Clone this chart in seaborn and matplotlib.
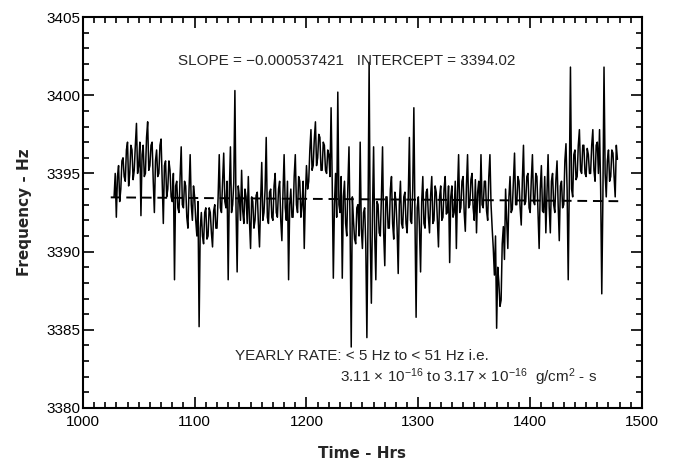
import numpy as np
import pandas as pd
import matplotlib
matplotlib.use("Agg")
import matplotlib.pyplot as plt
from matplotlib.ticker import MultipleLocator
import seaborn as sns

# ---- data ----
t_start = 1028.0
t_step = 1.0

# samples at even hours (1028, 1030, ...)
freq_even_a = [3393.5, 3392.2, 3395.5, 3394.0, 3396.0, 3394.5, 3397.0, 3395.0, 3396.5, 3395.2,
               3398.2, 3395.5, 3392.3, 3396.8, 3395.0, 3398.3, 3395.5, 3397.0, 3392.5, 3396.5,
               3395.0, 3397.2, 3391.8, 3395.8, 3394.0, 3395.2, 3393.2, 3388.2, 3394.5, 3392.5,
               3396.7, 3392.8, 3394.2, 3391.5, 3396.2, 3392.0, 3393.5, 3391.0, 3385.2, 3392.5,
               3390.5, 3392.8, 3391.0, 3392.5, 3390.3, 3393.0, 3391.5, 3396.2, 3392.5, 3396.3]
freq_even_b = [3392.8, 3388.2, 3396.7, 3393.0, 3400.3, 3388.7, 3393.5, 3395.2, 3391.8, 3393.5,
               3394.8, 3390.2, 3393.2, 3392.0, 3393.8, 3390.3, 3395.7, 3392.5, 3397.3, 3391.8,
               3394.0, 3392.0, 3395.0, 3392.2, 3394.5, 3390.7, 3396.2, 3392.0, 3388.2, 3394.0,
               3392.2, 3396.2, 3392.5, 3394.5, 3393.0, 3390.2, 3395.5, 3394.5, 3397.8, 3395.5,
               3398.3, 3396.0, 3397.3, 3395.2, 3396.8, 3395.0, 3396.2, 3399.2, 3388.3, 3395.0]
freq_even_c = [3400.2, 3392.5, 3388.3, 3394.5, 3391.0, 3396.7, 3383.9, 3392.0, 3390.5, 3393.0,
               3397.0, 3390.2, 3392.8, 3384.5, 3402.1, 3386.7, 3396.7, 3388.2, 3393.0, 3391.0,
               3396.7, 3389.1, 3393.5, 3391.5, 3394.8, 3390.8, 3393.2, 3388.6, 3394.5, 3391.5,
               3393.8, 3391.2, 3397.3, 3391.8, 3399.2, 3385.8, 3393.5, 3388.7, 3394.8, 3391.5,
               3394.0, 3391.2, 3394.8, 3392.0, 3393.8, 3390.3, 3394.2, 3392.2, 3394.8, 3392.5]
freq_even_d = [3389.3, 3394.2, 3392.5, 3390.2, 3396.2, 3392.8, 3394.8, 3391.3, 3396.2, 3393.0,
               3395.0, 3392.0, 3391.2, 3394.5, 3396.2, 3392.8, 3394.5, 3392.0, 3396.2, 3391.5,
               3388.5, 3385.1, 3388.0, 3386.9, 3391.6, 3394.0, 3390.2, 3394.8, 3392.7, 3396.3,
               3393.0, 3394.5, 3391.7, 3396.8, 3393.2, 3395.0, 3392.5, 3396.2, 3393.0, 3394.8,
               3390.2, 3395.5, 3392.5, 3391.2, 3396.2, 3391.2, 3395.0, 3392.5, 3395.8, 3390.7]
freq_even_e = [3394.5, 3393.0, 3396.9, 3388.2, 3401.8, 3393.5, 3396.5, 3394.8, 3397.8, 3395.0,
               3396.8, 3394.8, 3396.2, 3395.0, 3397.8, 3394.5, 3397.0, 3397.8, 3387.3, 3401.8,
               3393.5, 3396.5, 3394.8, 3396.3, 3393.5, 3395.9]

# samples at odd hours (1029, 1031, ...)
freq_odd_a = [3395.0, 3394.8, 3393.2, 3395.8, 3394.8, 3396.5, 3394.2, 3396.8, 3394.6, 3396.8,
              3395.0, 3397.0, 3396.2, 3394.8, 3397.3, 3395.2, 3396.8, 3394.5, 3395.8, 3394.8,
              3396.8, 3394.5, 3395.5, 3393.5, 3395.8, 3393.5, 3395.0, 3394.2, 3392.8, 3394.8,
              3393.0, 3394.5, 3392.2, 3394.0, 3393.0, 3394.2, 3392.0, 3393.2, 3391.5, 3391.0,
              3392.5, 3390.8, 3392.8, 3391.2, 3392.6, 3391.5, 3393.5, 3392.8, 3394.5, 3393.2]
freq_odd_b = [3394.5, 3393.8, 3392.5, 3394.4, 3392.8, 3394.2, 3392.0, 3392.6, 3394.0, 3391.8,
              3392.0, 3393.5, 3391.5, 3393.6, 3391.8, 3393.2, 3392.0, 3394.0, 3392.2, 3393.8,
              3392.2, 3394.2, 3392.5, 3394.0, 3392.0, 3393.8, 3392.8, 3394.5, 3393.0, 3392.2,
              3394.8, 3393.0, 3394.8, 3392.2, 3394.5, 3393.5, 3394.0, 3396.5, 3395.2, 3397.2,
              3395.5, 3397.5, 3395.2, 3397.0, 3395.2, 3396.5, 3394.8, 3394.5, 3393.0, 3392.2]
freq_odd_c = [3393.0, 3394.8, 3393.5, 3391.8, 3394.2, 3391.5, 3393.5, 3390.8, 3392.8, 3391.0,
              3391.5, 3392.5, 3390.5, 3392.0, 3391.0, 3392.5, 3391.0, 3393.2, 3391.2, 3393.5,
              3391.2, 3393.5, 3391.5, 3394.0, 3391.8, 3393.8, 3391.5, 3393.0, 3391.8, 3393.5,
              3391.8, 3393.5, 3392.0, 3394.0, 3392.0, 3392.8, 3391.5, 3393.2, 3391.8, 3393.8,
              3392.2, 3393.6, 3391.8, 3394.2, 3392.0, 3393.5, 3392.0, 3394.0, 3392.4, 3394.2]
freq_odd_d = [3393.5, 3392.2, 3394.5, 3393.8, 3392.5, 3394.5, 3392.5, 3394.2, 3392.8, 3394.6,
              3392.8, 3394.6, 3393.8, 3392.5, 3393.0, 3394.5, 3392.6, 3394.8, 3393.0, 3390.2,
              3391.0, 3389.0, 3386.5, 3390.5, 3389.5, 3392.0, 3393.5, 3392.5, 3394.5, 3393.0,
              3394.8, 3392.8, 3394.6, 3393.0, 3394.8, 3392.8, 3394.6, 3393.2, 3395.0, 3392.6,
              3394.0, 3392.6, 3394.8, 3393.8, 3392.8, 3394.5, 3393.0, 3394.6, 3393.0, 3394.2]
freq_odd_e = [3392.8, 3395.8, 3394.0, 3394.5, 3394.0, 3396.2, 3394.6, 3396.8, 3395.2, 3396.8,
              3395.0, 3396.6, 3395.0, 3396.8, 3395.2, 3396.8, 3395.0, 3394.0, 3393.5, 3395.0,
              3395.8, 3394.5, 3396.5, 3394.8, 3396.8]

slope = -0.000537421
intercept = 3394.02
fit_range = [1025.0, 1480.0]

x_ticks = [1000, 1100, 1200, 1300, 1400, 1500]
y_ticks = [3380, 3385, 3390, 3395, 3400, 3405]

even = freq_even_a + freq_even_b + freq_even_c + freq_even_d + freq_even_e
odd = freq_odd_a + freq_odd_b + freq_odd_c + freq_odd_d + freq_odd_e
freq = np.empty(len(even) + len(odd))
freq[0::2] = even
freq[1::2] = odd
time = t_start + t_step * np.arange(len(freq))
df = pd.DataFrame({"time": time, "freq": freq})
fit_df = pd.DataFrame({"time": fit_range,
                       "freq": [intercept + slope * v for v in fit_range]})

# ---- style ----
sns.set_style("ticks")
plt.rcParams["font.family"] = ["Liberation Sans", "DejaVu Sans"]
plt.rcParams["mathtext.fontset"] = "custom"
plt.rcParams["mathtext.rm"] = "Liberation Sans"
plt.rcParams["mathtext.it"] = "Liberation Sans:italic"

fig = plt.figure(figsize=(6.73, 4.61), dpi=100)
ax = fig.add_axes([0.123, 0.115, 0.831, 0.848])

sns.lineplot(data=df, x="time", y="freq", ax=ax, color="black", linewidth=1.1,
             estimator=None, sort=False)
sns.lineplot(data=fit_df, x="time", y="freq", ax=ax, color="black", linewidth=1.4,
             estimator=None, linestyle=(0, (5, 3)))

ax.set_xlim(1000, 1500)
ax.set_ylim(3380, 3405)
ax.set_xticks(x_ticks)
ax.set_yticks(y_ticks)
ax.xaxis.set_minor_locator(MultipleLocator(10))
ax.yaxis.set_minor_locator(MultipleLocator(1))
ax.tick_params(which="both", direction="in", top=True, right=True, labelsize=11,
               width=1.2, colors="black")
ax.tick_params(axis="y", pad=2)
ax.tick_params(axis="x", pad=5)
ax.tick_params(which="major", length=8)
ax.tick_params(which="minor", length=4)
for s in ax.spines.values():
    s.set_linewidth(1.5)
    s.set_color("black")

ax.set_xlabel("Time - Hrs", family="DejaVu Sans", fontweight="bold", fontsize=11, labelpad=12)
ax.set_ylabel("Frequency - Hz", family="DejaVu Sans", fontweight="bold", fontsize=11, labelpad=10)

ax.text(1236, 3402.2, "SLOPE = \u22120.000537421   INTERCEPT = 3394.02",
        ha="center", va="center", fontsize=11)
ax.text(1136, 3383.3, "YEARLY RATE: < 5 Hz to < 51 Hz i.e.", ha="left", va="center", fontsize=11)
ax.text(1230, 3382.0,
        r"3.11 $\times$ 10$^{-16}$ to 3.17 $\times$ 10$^{-16}$  g/cm$^{2}$ - s",
        ha="left", va="center", fontsize=11)

fig.savefig("out.png", dpi=100)
